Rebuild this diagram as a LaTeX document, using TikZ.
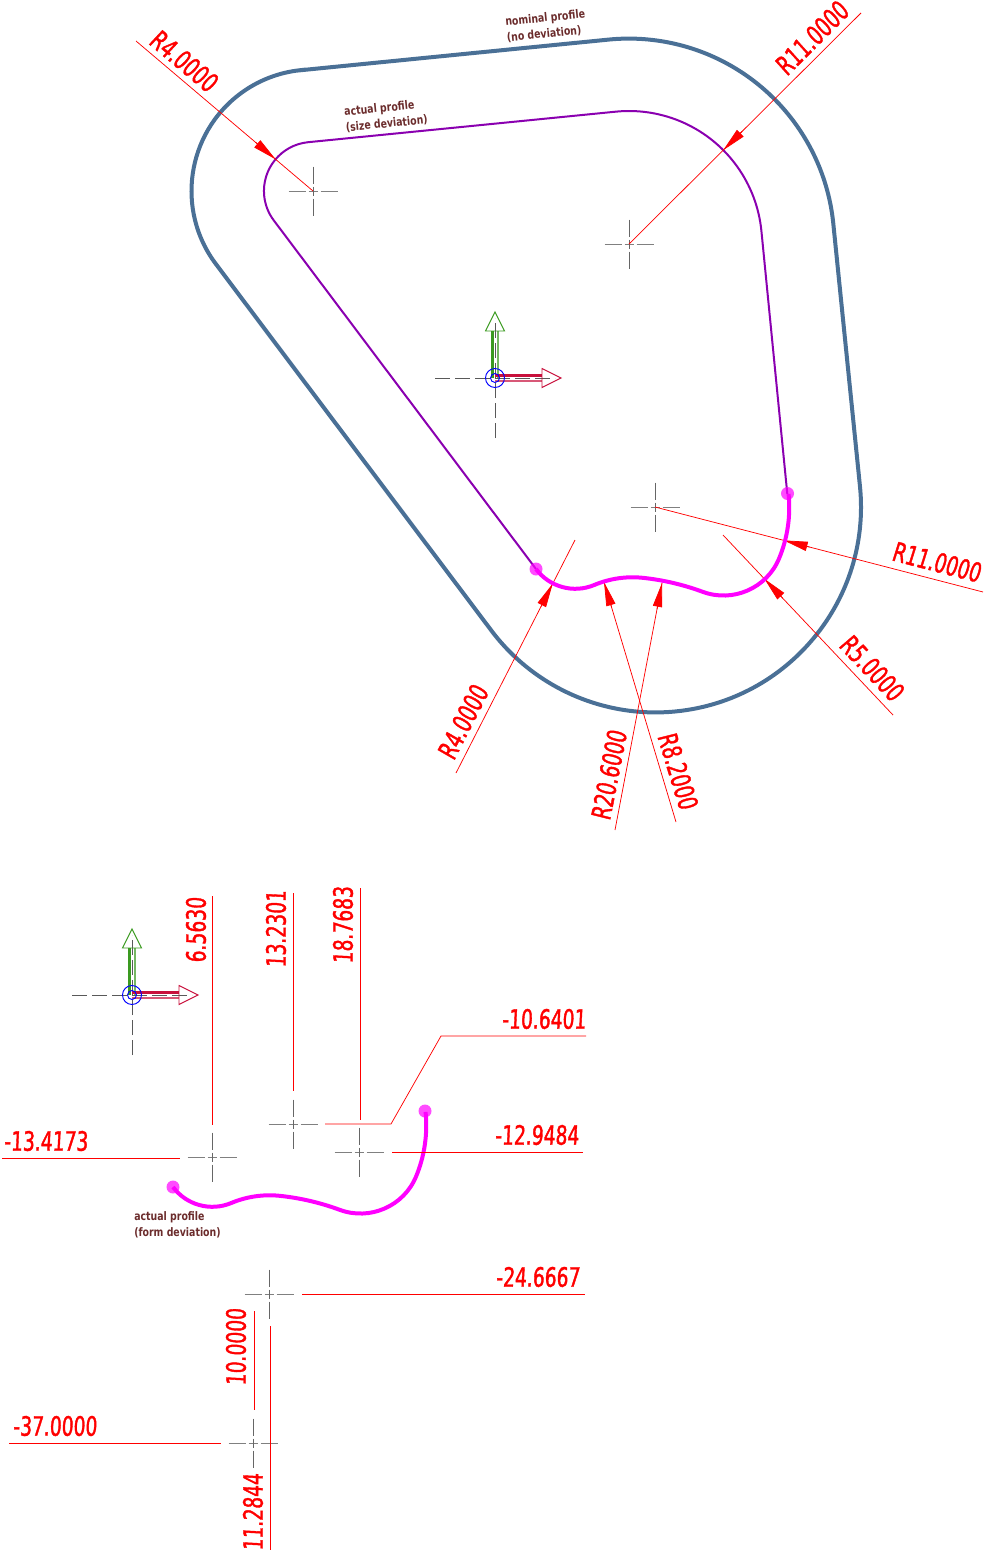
\documentclass[tikz,border=0pt]{standalone}
\usepackage{fontspec}
\setmainfont{DejaVu Sans}
\newfontfamily\dimfamily[FakeStretch=0.70,FakeBold=1.4,FakeSlant=0.05]{DejaVu Sans}
\newfontfamily\notefamily[FakeStretch=0.80]{DejaVu Sans Bold}
\usetikzlibrary{calc, arrows.meta}

\definecolor{nominalblue}{HTML}{4A7096}
\definecolor{sizepurple}{HTML}{8A00B0}
\definecolor{notemaroon}{HTML}{6B2C2C}
\definecolor{axisgreen}{HTML}{3A9A20}
\definecolor{axiscrimson}{HTML}{C8103C}
\definecolor{formmagenta}{HTML}{FF00FF}

\tikzset{
  dimline/.style={red, line width=0.55pt},
  dimtip/.style={red, line width=0.55pt, -{Triangle[length=18pt,width=7pt]}},
  dimtext/.style={red, inner sep=0pt, font=\dimfamily\fontsize{20}{20}\selectfont},
  notetext/.style={notemaroon, inner sep=0pt, align=left, font=\notefamily\fontsize{8.8}{12}\selectfont},
  framedash/.style={black!65, line width=0.6pt, dash pattern=on 11pt off 4pt},
  formline/.style={formmagenta, line width=3pt},
  formdot/.style={formmagenta, opacity=0.7},
}

% centre cross, arms of 25 px
\newcommand\centermark[1]{
  \draw[gray, line width=0.6pt, dash pattern=on 12.75pt off 2.25pt on 6.75pt off 2.25pt on 12.75pt] ($(#1)+(-24.5,0)$) -- ($(#1)+(24.5,0)$);
  \draw[black!60, line width=0.6pt, dash pattern=on 12.75pt off 2.25pt on 6.75pt off 2.25pt on 12.75pt] ($(#1)+(0,-24.5)$) -- ($(#1)+(0,24.5)$);
}

% radius leader, from free end to centre, arrowhead on the arc
\newcommand\radiusleader[3]{
  \draw[dimline] (#1) -- (#2);
  \draw[dimtip] ($(#2)!#3*0.75pt+20pt!(#1)$) -- ($(#2)!#3*0.75pt!(#1)$);
}

% leader that runs on past the centre, from free end to its tip
\newcommand\tipleader[2]{
  \draw[dimline] (#1) -- (#2);
  \draw[dimtip] ($(#2)!20pt!(#1)$) -- (#2);
}

% coordinate frame at the given point
\newcommand\axesframe[1]{
  \begin{scope}[shift={(#1)}]
    \draw[framedash] (-60,0) -- (60,0);
    \draw[framedash] (0,60) -- (0,-60);
    \draw[axisgreen, line width=1.7pt] (-2.4,0) -- (-2.4,-47);
    \draw[axisgreen!70, line width=1.5pt] (3,0) -- (3,-47);
    \draw[axisgreen, line width=0.7pt] (-9.5,-47) -- (9.5,-47) -- (0,-66) -- cycle;
    \draw[axiscrimson, line width=1.8pt] (0,-2.6) -- (47,-2.6);
    \draw[axiscrimson!70, line width=1.8pt] (0,2.7) -- (47,2.7);
    \draw[axiscrimson, line width=0.7pt] (47,-9.5) -- (47,9.5) -- (66,0) -- cycle;
    \draw[blue, line width=0.7pt] (0,0) circle (9.5);
    \draw[blue, line width=0.7pt] (0,0) circle (4.5);
  \end{scope}
}

% the blended arcs of the form deviation, from end dot to end dot
\newcommand\formarcs{
  (536,569) arc[start angle=143.4, end angle=67.26, radius=49]
  arc[start angle=247.26, end angle=276.13, radius=99]
  arc[start angle=276.13, end angle=290.25, radius=248.9]
  arc[start angle=110.25, end angle=22.4, radius=60.2]
  arc[start angle=22.4, end angle=-5.8, radius=133.5]
}

\begin{document}
\begin{tikzpicture}[x=0.75pt, y=-0.75pt]
  \useasboundingbox (0,0) rectangle (985,1553);

  % Define points
  \coordinate (CA) at (313,191);
  \coordinate (CB) at (629,244);
  \coordinate (CC) at (655,507);
  \coordinate (CD) at (575,540);
  \coordinate (CE) at (723,535);

  % Nominal profile
  \draw[nominalblue, line width=3pt] (300.9,70.2) -- (608.5,39.6)
    arc[start angle=-95.68, end angle=-5.65, radius=205.5] -- (860,486.7)
    arc[start angle=-5.65, end angle=143.13, radius=205.5] -- (215.8,263.9)
    arc[start angle=143.13, end angle=264.32, radius=121.5] -- cycle;

  % Actual profile, size deviation
  \draw[sizepurple, line width=1.5pt] (787.3,493.9) -- (761.4,230.9)
    arc[start angle=-5.65, end angle=-95.68, radius=133] -- (308.1,142.2)
    arc[start angle=264.32, end angle=143.13, radius=49] -- (536,569);

  % Centre crosses
  \centermark{CA}
  \centermark{CB}
  \centermark{CC}

  \axesframe{495,378}

  % Radius leaders
  \coordinate (LA) at (136,41);
  \coordinate (LB) at (861,13);
  \coordinate (LC) at (983,592);
  \coordinate (LD) at (893,715);
  \coordinate (LE) at (456,773);
  \coordinate (LF) at (676,822);
  \coordinate (LG) at (615,830);
  \coordinate (TF) at (604,582);
  \coordinate (TG) at (662,583);
  \radiusleader{LA}{CA}{49}
  \radiusleader{LB}{CB}{133}
  \radiusleader{LC}{CC}{133}
  \radiusleader{LD}{CE}{60.2}
  \radiusleader{LE}{CD}{49}
  \tipleader{LF}{TF}
  \tipleader{LG}{TG}

  % Form deviation, upper view
  \draw[formline] \formarcs;
  \fill[formdot] (536,569) circle (6.5);
  \fill[formdot] (787.5,493.5) circle (6.5);

  % Labels, upper view
  \node[dimtext, rotate=-40] (rA) at (184,61) {R4.0000};
  \node[dimtext, rotate=45] (rB) at (812,38) {R11.0000};
  \node[dimtext, rotate=-14.5] (rC) at (937,562) {R11.0000};
  \node[dimtext, rotate=-46.6] (rD) at (872,668) {R5.0000};
  \node[dimtext, rotate=63] (rE) at (463,722) {R4.0000};
  \node[dimtext, rotate=79] (rF) at (609,775) {R20.6000};
  \node[dimtext, rotate=-73] (rG) at (678,771) {R8.2000};
  \node[notetext, rotate=5.7] (noteA) at (546,26) {nominal profile\\(no deviation)};
  \node[notetext, rotate=5.7] (noteB) at (386,116) {actual profile\\(size deviation)};

  % Lower view
  \axesframe{132,995}
  \begin{scope}[shift={(-363,618)}]
    \draw[formline] \formarcs;
  \end{scope}
  \fill[formdot] (173,1187) circle (6.5);
  \fill[formdot] (425,1111) circle (6.5);
  \node[notetext, anchor=west] (noteC) at (134,1225) {actual profile\\(form deviation)};

  \coordinate (MA) at (212,1157);
  \coordinate (MB) at (293,1124);
  \coordinate (MC) at (359,1152);
  \coordinate (MD) at (269,1294);
  \coordinate (ME) at (253,1443);
  \centermark{MA}
  \centermark{MB}
  \centermark{MC}
  \centermark{MD}
  \centermark{ME}

  % Ordinate dimensions
  \coordinate (DA) at (212,896);
  \coordinate (DB) at (212,1125);
  \draw[dimline] (DA) -- (DB);
  \coordinate (DC) at (293,893);
  \coordinate (DD) at (293,1091);
  \draw[dimline] (DC) -- (DD);
  \coordinate (DE) at (360,888);
  \coordinate (DF) at (360,1120);
  \draw[dimline] (DE) -- (DF);
  \coordinate (DG) at (325,1124);
  \coordinate (DH) at (391,1124);
  \coordinate (DI) at (441,1036);
  \coordinate (DJ) at (586,1036);
  \draw[dimline] (DG) -- (DH) -- (DI) -- (DJ);
  \coordinate (DK) at (392,1152);
  \coordinate (DL) at (583,1152);
  \draw[dimline] (DK) -- (DL);
  \coordinate (DM) at (2,1158);
  \coordinate (DN) at (180,1158);
  \draw[dimline] (DM) -- (DN);
  \coordinate (DO) at (302,1294);
  \coordinate (DP) at (585,1294);
  \draw[dimline] (DO) -- (DP);
  \coordinate (DQ) at (9,1443);
  \coordinate (DR) at (221,1443);
  \draw[dimline] (DQ) -- (DR);
  \coordinate (DS) at (254,1311);
  \coordinate (DT) at (254,1410);
  \draw[dimline] (DS) -- (DT);
  \coordinate (DU) at (270,1326);
  \coordinate (DV) at (270,1550);
  \draw[dimline] (DU) -- (DV);

  \node[dimtext, rotate=90] (vA) at (196,930) {6.5630};
  \node[dimtext, rotate=90] (vB) at (276,929) {13.2301};
  \node[dimtext, rotate=90] (vC) at (343,925) {18.7683};
  \node[dimtext] (vD) at (544,1019) {-10.6401};
  \node[dimtext] (vE) at (537,1135) {-12.9484};
  \node[dimtext] (vF) at (46,1141) {-13.4173};
  \node[dimtext] (vG) at (538,1277) {-24.6667};
  \node[dimtext] (vH) at (55,1426) {-37.0000};
  \node[dimtext, rotate=90] (vI) at (236,1347) {10.0000};
  \node[dimtext, rotate=90] (vJ) at (253,1512) {11.2844};
\end{tikzpicture}
\end{document}
